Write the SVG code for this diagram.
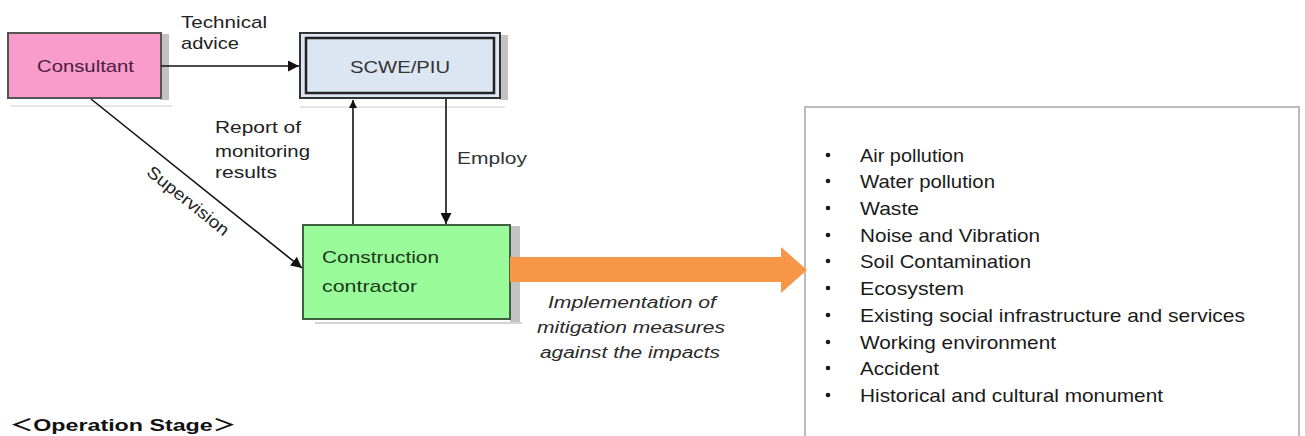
<svg xmlns="http://www.w3.org/2000/svg" width="1305" height="436" viewBox="0 0 1305 436">
<defs>
<marker id="ah" viewBox="0 0 10 10" refX="10" refY="5" markerWidth="8" markerHeight="8" markerUnits="userSpaceOnUse" orient="auto"><path d="M0,0 L10,5 L0,10 z" fill="#111"/></marker>
<marker id="ah2" viewBox="0 0 10 10" refX="10" refY="5" markerWidth="11" markerHeight="11" markerUnits="userSpaceOnUse" orient="auto"><path d="M0,0 L10,5 L0,10 z" fill="#111"/></marker>
<style>
text{font-family:"Liberation Sans",Arial,sans-serif}
.lbl{font-size:17px;fill:#222}
.li{font-size:19px;fill:#1a1a1a}
.it{font-size:16px;font-style:italic;fill:#2a2a2a}
.edge{stroke:#111;stroke-width:1.6;fill:none}
.shadow{fill:#9a9a9a}
</style>
</defs>
<rect width="1305" height="436" fill="#fff"/>

<g id="consultant">
<rect x="160" y="34" width="9" height="66" class="shadow" opacity="0.6"/>
<line x1="10" y1="106" x2="172" y2="106" stroke="#ccc" stroke-width="1"/>
<rect x="8" y="33" width="153" height="65" fill="#f99bcb" stroke="#555" stroke-width="2"/>
<text x="37" y="72" class="lbl" style="fill:#4a2040" textLength="97" lengthAdjust="spacingAndGlyphs">Consultant</text>
</g>

<g id="scwe">
<rect x="500" y="35" width="8" height="65" class="shadow" opacity="0.6"/>
<line x1="300" y1="107" x2="505" y2="107" stroke="#ccc" stroke-width="1"/>
<rect x="300" y="33" width="200" height="65" fill="#dce6f2" stroke="#333" stroke-width="2"/>
<rect x="306" y="38" width="188" height="55" fill="none" stroke="#222" stroke-width="2.5"/>
<text x="400" y="73" class="lbl" style="fill:#333" text-anchor="middle" textLength="100" lengthAdjust="spacingAndGlyphs">SCWE/PIU</text>
</g>

<g id="contractor">
<rect x="510" y="226" width="10" height="96" class="shadow" opacity="0.6"/>
<line x1="315" y1="323" x2="522" y2="323" stroke="#aaa" stroke-width="1"/>
<rect x="303" y="225" width="207" height="94" fill="#99fb99" stroke="#3f5f3f" stroke-width="2"/>
<text x="322" y="263" class="lbl" style="fill:#1a3a1a" textLength="117" lengthAdjust="spacingAndGlyphs">Construction</text>
<text x="322" y="292" class="lbl" style="fill:#1a3a1a" textLength="95" lengthAdjust="spacingAndGlyphs">contractor</text>
</g>

<g id="impacts">
<rect x="805" y="107" width="494" height="340" fill="#fff" stroke="#bbb" stroke-width="2"/>
<g fill="#1a1a1a">
<circle cx="828" cy="155" r="2.3"/>
<circle cx="828" cy="181" r="2.3"/>
<circle cx="828" cy="208" r="2.3"/>
<circle cx="828" cy="235" r="2.3"/>
<circle cx="828" cy="261" r="2.3"/>
<circle cx="828" cy="288" r="2.3"/>
<circle cx="828" cy="315" r="2.3"/>
<circle cx="828" cy="342" r="2.3"/>
<circle cx="828" cy="368" r="2.3"/>
<circle cx="828" cy="395" r="2.3"/>
</g>
<text x="860" y="162" class="li" textLength="104" lengthAdjust="spacingAndGlyphs">Air pollution</text>
<text x="860" y="188" class="li" textLength="135" lengthAdjust="spacingAndGlyphs">Water pollution</text>
<text x="860" y="215" class="li" textLength="59" lengthAdjust="spacingAndGlyphs">Waste</text>
<text x="860" y="242" class="li" textLength="180" lengthAdjust="spacingAndGlyphs">Noise and Vibration</text>
<text x="860" y="268" class="li" textLength="171" lengthAdjust="spacingAndGlyphs">Soil Contamination</text>
<text x="860" y="295" class="li" textLength="104" lengthAdjust="spacingAndGlyphs">Ecosystem</text>
<text x="860" y="322" class="li" textLength="385" lengthAdjust="spacingAndGlyphs">Existing social infrastructure and services</text>
<text x="860" y="349" class="li" textLength="196" lengthAdjust="spacingAndGlyphs">Working environment</text>
<text x="860" y="375" class="li" textLength="79" lengthAdjust="spacingAndGlyphs">Accident</text>
<text x="860" y="402" class="li" textLength="303" lengthAdjust="spacingAndGlyphs">Historical and cultural monument</text>
</g>

<g id="connectors">
<line x1="161" y1="66" x2="299" y2="66" class="edge" marker-end="url(#ah2)"/>
<line x1="91" y1="99" x2="302" y2="268" class="edge" marker-end="url(#ah2)"/>
<line x1="353" y1="224" x2="353" y2="100" class="edge" marker-end="url(#ah)"/>
<line x1="446" y1="99" x2="446" y2="224" class="edge" marker-end="url(#ah2)"/>
<path d="M510,257 H781 V247 L807,270 L781,293 V282 H510 z" fill="#f79646"/>
<text x="181" y="28" class="lbl" textLength="86" lengthAdjust="spacingAndGlyphs">Technical</text>
<text x="181" y="49" class="lbl" textLength="58" lengthAdjust="spacingAndGlyphs">advice</text>
<text x="215" y="133" class="lbl" textLength="86" lengthAdjust="spacingAndGlyphs">Report of</text>
<text x="215" y="157" class="lbl" textLength="95" lengthAdjust="spacingAndGlyphs">monitoring</text>
<text x="215" y="178" class="lbl" textLength="62" lengthAdjust="spacingAndGlyphs">results</text>
<text x="457" y="164" class="lbl" style="fill:#333" textLength="70" lengthAdjust="spacingAndGlyphs">Employ</text>
<text x="188" y="201" class="lbl" text-anchor="middle" dominant-baseline="central" transform="rotate(38.7 188 201)" textLength="100" lengthAdjust="spacingAndGlyphs">Supervision</text>
<text x="632" y="308" class="it" text-anchor="middle" textLength="168" lengthAdjust="spacingAndGlyphs">Implementation  of</text>
<text x="631" y="333" class="it" text-anchor="middle" textLength="188" lengthAdjust="spacingAndGlyphs">mitigation  measures</text>
<text x="630" y="358" class="it" text-anchor="middle" textLength="180" lengthAdjust="spacingAndGlyphs">against the impacts</text>
</g>

<text x="10" y="431" font-size="17" font-weight="bold" fill="#111" textLength="226" lengthAdjust="spacingAndGlyphs" style="font-family:'Liberation Sans','Noto Sans CJK JP',sans-serif">＜Operation Stage＞</text>
</svg>
